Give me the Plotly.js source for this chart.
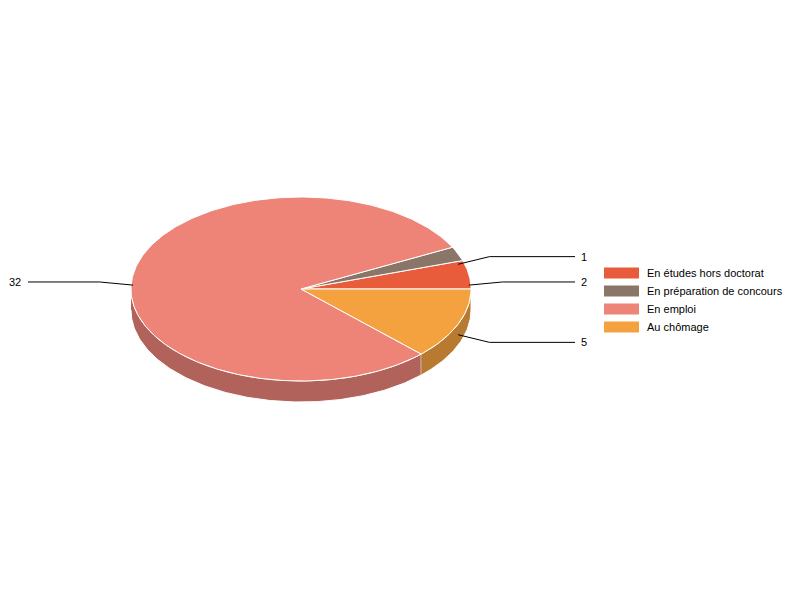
<!DOCTYPE html>
<html>
<head>
<meta charset="utf-8">
<script src="https://cdn.plot.ly/plotly-3.0.1.min.js"></script>
<style>body{margin:0;background:#fff}#chart{width:800px;height:600px}</style>
</head>
<body>
<div id="chart"></div>
<script>
const categories = ['En études hors doctorat', 'En préparation de concours', 'En emploi', 'Au chômage'];
const values = [2, 1, 32, 5];
const topColors = ['#E95C3B', '#8A7668', '#EE8377', '#F4A140'];
const sideColors = ['#A3402A', '#615349', '#B1625A', '#B77A30'];

// pie geometry, axes are laid out 1 unit = 1 px
const cx = 301, cy = 289, rx = 170, ry = 92, depth = 21;
const labelRx = rx + 34, labelRy = ry + 20;
const font = {family: 'Liberation Sans, Arial, sans-serif', size: 11, color: '#000'};

function arc(a0, a1, dy){
  const xs = [], ys = [];
  const n = Math.max(2, Math.ceil(Math.abs(a1 - a0)));
  for (let i = 0; i <= n; i++){
    const a = (a0 + (a1 - a0) * i / n) * Math.PI / 180;
    xs.push(cx + rx * Math.cos(a));
    ys.push(cy - ry * Math.sin(a) + dy);
  }
  return {x: xs, y: ys};
}

const total = values.reduce((s, v) => s + v, 0);
const slices = [];
let acc = 0;
values.forEach((v, i) => {
  const a0 = acc / total * 360;
  acc += v;
  const a1 = acc / total * 360;
  slices.push({a0: a0, a1: a1, mid: (a0 + a1) / 2});
});

const data = [];

// side walls (front half only)
slices.forEach((s, i) => {
  const b0 = Math.max(s.a0, 180), b1 = Math.min(s.a1, 360);
  if (b1 <= b0) return;
  const up = arc(b0, b1, 0), down = arc(b1, b0, depth);
  data.push({
    x: up.x.concat(down.x), y: up.y.concat(down.y),
    type: 'scatter', mode: 'lines', fill: 'toself',
    fillcolor: sideColors[i], line: {color: '#fff', width: 1},
    hoverinfo: 'skip', showlegend: false
  });
});

// top faces
slices.forEach((s, i) => {
  const a = arc(s.a0, s.a1, 0);
  data.push({
    x: [cx].concat(a.x, [cx]), y: [cy].concat(a.y, [cy]),
    type: 'scatter', mode: 'lines', fill: 'toself',
    fillcolor: topColors[i], line: {color: '#fff', width: 1},
    name: categories[i], hoverinfo: 'skip', showlegend: false
  });
});

// label connectors and labels
const lx = [], ly = [];
const annotations = [];
slices.forEach((s, i) => {
  const m = s.mid * Math.PI / 180;
  const right = Math.cos(m) >= 0;
  const sx = cx + rx * Math.cos(m), sy = cy - ry * Math.sin(m) + depth / 2;
  const kx = cx + labelRx * Math.cos(m), ky = cy - labelRy * Math.sin(m) + depth / 2;
  const ex = right ? 575 : 28;
  lx.push(sx, kx, ex, null);
  ly.push(sy, ky, ky, null);
  annotations.push({
    x: right ? ex + 4 : ex - 5, y: ky, xref: 'x', yref: 'y',
    text: String(values[i]), showarrow: false,
    xanchor: right ? 'left' : 'right', yanchor: 'middle', font: font
  });
});
data.push({
  x: lx, y: ly, type: 'scatter', mode: 'lines',
  line: {color: '#000', width: 1}, hoverinfo: 'skip', showlegend: false
});

// legend
const shapes = [];
categories.forEach((c, i) => {
  const rowY = 273 + 18 * i;
  shapes.push({
    type: 'rect', xref: 'x', yref: 'y',
    x0: 604, x1: 639, y0: rowY - 5.5, y1: rowY + 5.5,
    fillcolor: topColors[i], line: {width: 0}
  });
  annotations.push({
    x: 645, y: rowY, xref: 'x', yref: 'y', text: c, showarrow: false,
    xanchor: 'left', yanchor: 'middle', font: font
  });
});

const layout = {
  width: 800, height: 600,
  margin: {l: 0, r: 0, t: 0, b: 0},
  paper_bgcolor: '#fff', plot_bgcolor: '#fff',
  showlegend: false,
  xaxis: {range: [0, 800], visible: false, fixedrange: true},
  yaxis: {range: [600, 0], visible: false, fixedrange: true},
  shapes: shapes,
  annotations: annotations
};

Plotly.newPlot('chart', data, layout, {staticPlot: true, displayModeBar: false});
</script>
</body>
</html>
